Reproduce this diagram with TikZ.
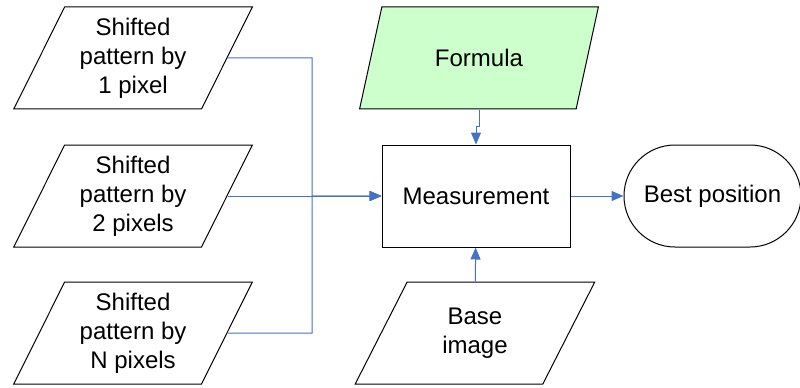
\documentclass[tikz,border=0pt]{standalone}
\usepackage{fontspec}
\setmainfont{Liberation Sans}
\usepackage{tikz}
\usetikzlibrary{arrows.meta, positioning, calc, shapes.geometric}
\definecolor{linkblue}{RGB}{68,114,196}
\definecolor{formulagreen}{RGB}{204,255,204}

\begin{document}
\begin{tikzpicture}[
        node distance=17.5pt and 77pt,
        font=\fontsize{12}{14.5}\selectfont,
        data/.style={draw, line width=0.5pt, trapezium, trapezium left angle=64, trapezium right angle=116,
            trapezium stretches=true, minimum width=120pt, minimum height=51pt, align=center, inner sep=1pt},
        box/.style={draw, line width=0.5pt, minimum width=94pt, minimum height=51pt, align=center},
        result/.style={draw, line width=0.5pt, rounded corners=25.5pt, minimum width=88.5pt, minimum height=51pt, align=center},
        link/.style={draw=linkblue, line width=0.5pt},
        arrow/.style={link, -{Triangle[length=6pt, width=5pt]}}
    ]
    \useasboundingbox (0,0) rectangle (400pt,193.5pt);
    \node[box] (measure) at (238pt,95.5pt) {Measurement};
    \node[data, left=of measure] (shift2) {Shifted\\pattern by\\2 pixels};
    \node[data, above=of shift2] (shift1) {Shifted\\pattern by\\1 pixel};
    \node[data, below=17pt of shift2] (shiftn) {Shifted\\pattern by\\N pixels};
    \node[data, fill=formulagreen, above=of measure, xshift=1.5pt] (formula) {Formula};
    \node[data, below=17pt of measure, xshift=-0.5pt] (base) {Base\\image};
    \node[result, right=26.5pt of measure] (best) {Best position};
    \coordinate (join) at ($(shift2.east)!0.55!(measure.west)$);
    \draw[arrow] (shift1.east) -| (join) -- (measure.west);
    \draw[arrow] (shiftn.east) -| (join) -- (measure.west);
    \draw[arrow] (shift2.east) -- (measure.west);
    \draw[arrow] (formula.south) -- ++(0,-8.5pt) -| (measure.north);
    \draw[arrow] (base) -- (measure);
    \draw[arrow] (measure) -- (best);
\end{tikzpicture}
\end{document}
